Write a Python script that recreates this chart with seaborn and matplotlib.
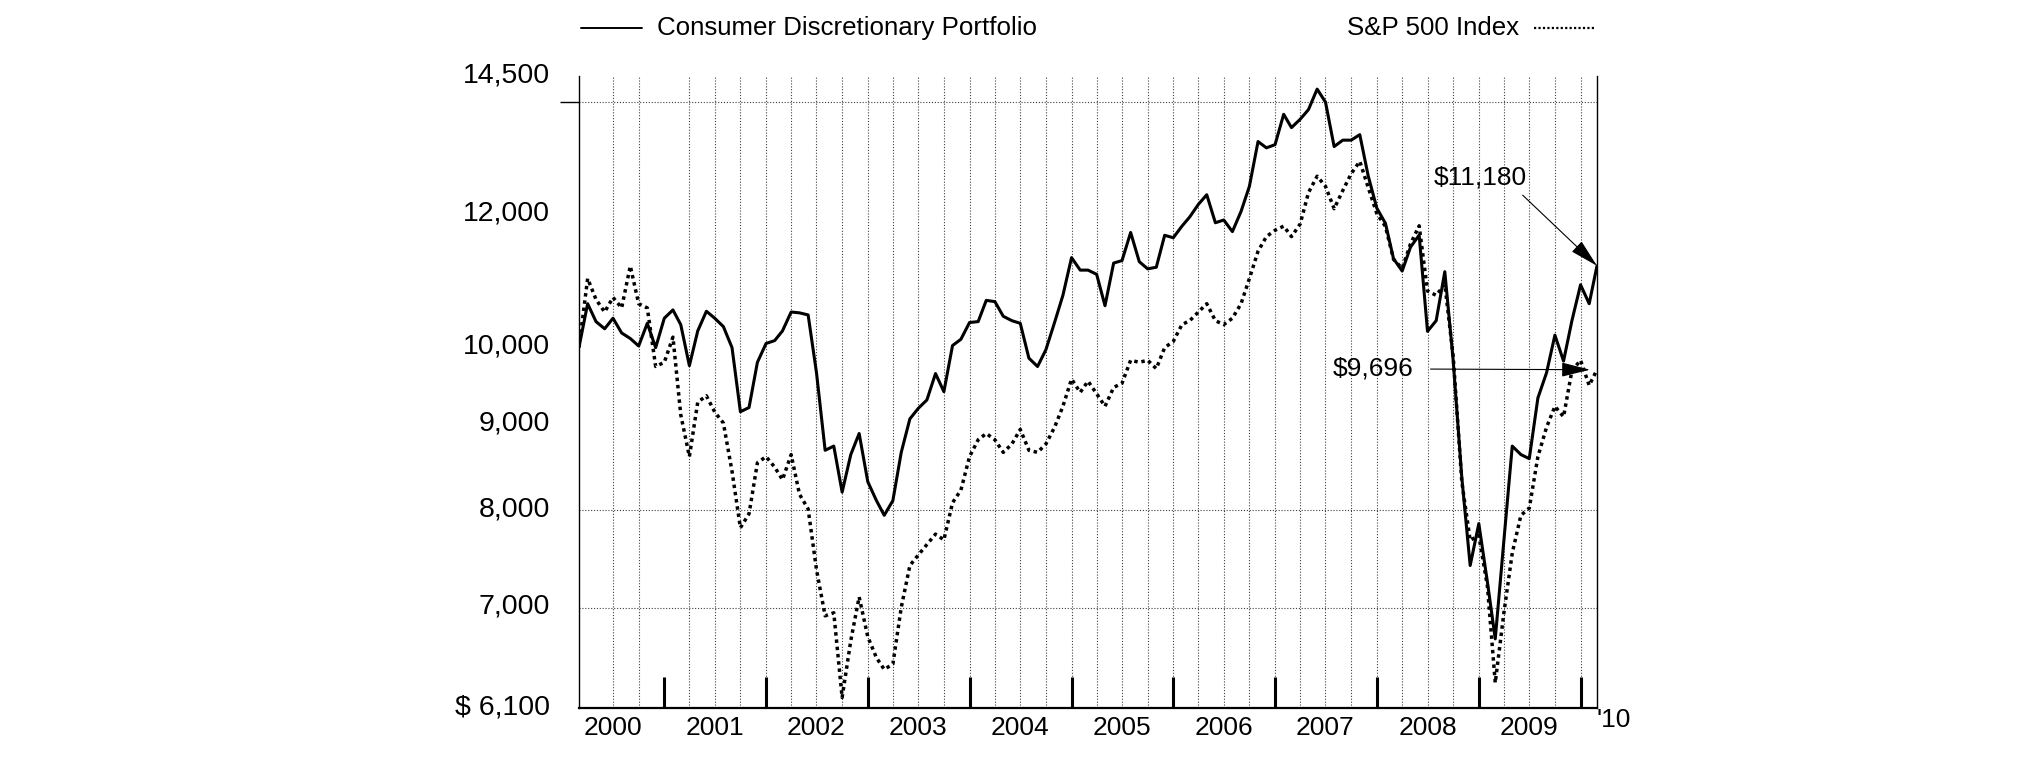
import numpy as np
import pandas as pd
import seaborn as sns
import matplotlib.pyplot as plt
from matplotlib.lines import Line2D
from matplotlib.ticker import FixedLocator, NullFormatter
from matplotlib.transforms import ScaledTranslation

# month-end values of a hypothetical $10,000 investment, Feb 2000 - Feb 2010
portfolio = [
    10000, 10614, 10357, 10256, 10405, 10197, 10120, 10017, 10333, 9994,
    10405, 10524, 10314, 9750, 10226, 10505, 10405, 10286, 9994, 9154,
    9207, 9795, 10051, 10091, 10226, 10494, 10482, 10452, 9656, 8683,
    8733, 8199, 8632, 8885, 8317, 8105, 7943, 8105, 8658, 9065,
    9196, 9303, 9645, 9409, 10023, 10109, 10344, 10357, 10663, 10644,
    10433, 10370, 10333, 9851, 9739, 9966, 10344, 10737, 11306, 11114,
    11114, 11050, 10585, 11222, 11260, 11702, 11243, 11133, 11158, 11657,
    11618, 11804, 11954, 12162, 12323, 11859, 11904, 11716, 12044, 12466,
    13255, 13141, 13198, 13759, 13510, 13665, 13848, 14242, 13990, 13164,
    13280, 13280, 13380, 12650, 12100, 11850, 11290, 11100, 11470, 11660,
    10220, 10370, 11090, 9823, 8365, 7415, 7853, 7246, 6706, 7674,
    8733, 8632, 8584, 9329, 9656, 10167, 9812, 10370, 10893, 10614,
    11180,
]
sp500 = [
    10000, 10987, 10676, 10494, 10706, 10553, 11177, 10614, 10553, 9740,
    9795, 10139, 9117, 8608, 9275, 9356, 9150, 9013, 8436, 7808,
    7960, 8535, 8608, 8485, 8340, 8632, 8175, 8012, 7373, 6921,
    6950, 6188, 6690, 7102, 6725, 6535, 6431, 6479, 7000, 7415,
    7522, 7631, 7741, 7680, 8081, 8222, 8608, 8809, 8885, 8809,
    8658, 8758, 8935, 8683, 8658, 8758, 8961, 9222, 9573, 9400,
    9545, 9383, 9222, 9464, 9518, 9823, 9795, 9823, 9711, 9994,
    10080, 10315, 10370, 10494, 10614, 10370, 10315, 10405, 10614, 10987,
    11405, 11636, 11737, 11804, 11636, 11838, 12359, 12640, 12466, 12090,
    12394, 12683, 12900, 12450, 12011, 11800, 11280, 11140, 11520, 11810,
    10800, 10737, 10900, 9880, 8317, 7674, 7728, 7205, 6314, 6950,
    7543, 7943, 8021, 8608, 8961, 9222, 9091, 9684, 9823, 9490,
    9696,
]
year_labels = ["2000", "2001", "2002", "2003", "2004", "2005", "2006", "2007", "2008", "2009"]
y_ticks = [6100, 7000, 8000, 9000, 10000, 12000, 14500]
y_tick_labels = ["$ 6,100", "7,000", "8,000", "9,000", "10,000", "12,000", "14,500"]
grid_values = [7000, 8000, 14000]

months = pd.date_range("2000-02-29", periods=len(portfolio), freq="ME")
df = pd.DataFrame({"date": months, "portfolio": portfolio, "sp500": sp500})

sns.set_style("white")
plt.rcParams["font.family"] = ["Liberation Sans", "DejaVu Sans"]
plt.rcParams["text.color"] = "black"
plt.rcParams["xtick.color"] = "black"
plt.rcParams["ytick.color"] = "black"

W, H = 2025, 761
fig = plt.figure(figsize=(W / 100, H / 100), dpi=100)
ax = fig.add_axes([579 / W, 1 - 708 / H, (1597 - 579) / W, (708 - 76) / H])

sns.lineplot(data=df, x="date", y="portfolio", ax=ax, color="black", lw=2.2)
sns.lineplot(data=df, x="date", y="sp500", ax=ax, color="black", lw=2.5,
             linestyle=(0, (1, 1.1)))

ax.set_yscale("log")
ax.set_ylim(6100, 14500)
ax.set_xlim(months[0], months[-1])
ax.set_xlabel("")
ax.set_ylabel("")

# y axis: labels without marks, short marks only where grid lines are
ax.yaxis.set_major_locator(FixedLocator(y_ticks))
ax.set_yticklabels(y_tick_labels)
ax.yaxis.set_minor_locator(FixedLocator([6100] + grid_values))
ax.yaxis.set_minor_formatter(NullFormatter())
ax.tick_params(axis="y", which="major", length=0, pad=21, labelsize=20.5, labelcolor="black")
ax.tick_params(axis="y", which="minor", length=14, width=1, direction="out", color="black", left=True)
shift_up = ScaledTranslation(0, 0.04, fig.dpi_scale_trans)
for lab in ax.get_yticklabels():
    lab.set_transform(lab.get_transform() + shift_up)

for v in grid_values:
    ax.axhline(v, color="0.25", lw=0.8, ls=(0, (1, 1.6)), zorder=0)

# quarterly vertical grid
qdates = [d for d in pd.date_range("2000-06-30", "2009-12-31", freq="QE")
          if d != pd.Timestamp("2000-12-31")]
for d in qdates:
    ax.axvline(d, color="0.25", lw=0.8, ls=(0, (1, 1.6)), zorder=0)

# x axis: labels mid-year, heavy year-end marks inside
mid_years = pd.to_datetime([f"{y}-06-30" for y in year_labels])
ax.set_xticks(mid_years)
ax.set_xticklabels(year_labels)
year_ends = pd.to_datetime([f"{y}-12-31" for y in year_labels])
ax.set_xticks(year_ends, minor=True)
ax.tick_params(axis="x", which="major", length=0, pad=6, labelsize=19, labelcolor="black")
ax.tick_params(axis="x", which="minor", length=22, width=2.2, direction="in",
               color="black", bottom=True)
fig.text(1614 / W, 1 - 720 / H, "'10", ha="center", va="center", fontsize=19)

for side in ["left", "right"]:
    ax.spines[side].set_color("black")
    ax.spines[side].set_linewidth(1.0)
ax.spines["bottom"].set_color("black")
ax.spines["bottom"].set_linewidth(1.6)
ax.spines["top"].set_visible(False)

# end-value callouts
ax.annotate("$11,180", xy=(months[-1], portfolio[-1]),
            xytext=(1480 / W, 1 - 178 / H), textcoords="figure fraction",
            ha="center", va="center", fontsize=19,
            arrowprops=dict(arrowstyle="-|>,head_length=0.6,head_width=0.15",
                            color="black", lw=0.8, mutation_scale=30,
                            relpos=(0.9, 0), shrinkA=2, shrinkB=0))
ax.annotate("$9,696", xy=(months[-1], sp500[-1]),
            xytext=(1373 / W, 1 - 369 / H), textcoords="figure fraction",
            ha="center", va="center", fontsize=19,
            arrowprops=dict(arrowstyle="-|>,head_length=0.6,head_width=0.15",
                            color="black", lw=0.8, mutation_scale=30,
                            relpos=(1, 0.5), shrinkA=10, shrinkB=5))

# legend row at the top
fig.add_artist(Line2D([581 / W, 642 / W], [1 - 28 / H] * 2, color="black", lw=1.4))
fig.text(657 / W, 1 - 28 / H, "Consumer Discretionary Portfolio", ha="left", va="center", fontsize=18.6)
fig.text(1519 / W, 1 - 28 / H, "S&P 500 Index", ha="right", va="center", fontsize=18.6)
fig.add_artist(Line2D([1534 / W, 1596 / W], [1 - 28 / H] * 2, color="black", lw=1.6,
                      ls=(0, (1, 1))))

fig.savefig("out.png", dpi=100)
